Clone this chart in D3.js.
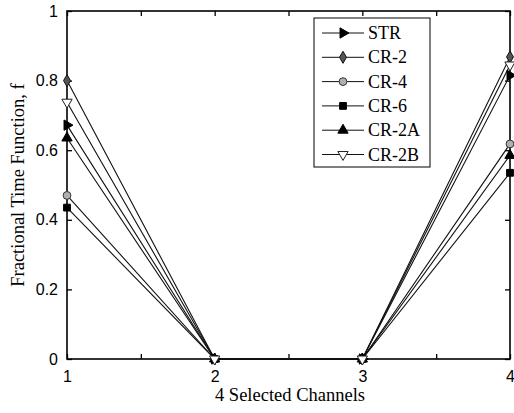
<!DOCTYPE html>
<html>
<head>
<meta charset="utf-8">
<script src="https://cdn.jsdelivr.net/npm/d3@7"></script>
<style>
  html, body { margin: 0; padding: 0; background: #fff; }
  svg { display: block; }
</style>
</head>
<body>
<svg id="chart" width="514" height="413"></svg>
<script>
// Channel positions along the x axis
const channels = [1, 2, 3, 4];
const xTickLabels = ["1", "2", "3", "4"];
const yTicks = [0, 0.2, 0.4, 0.6, 0.8, 1];

// Fractional time function per configuration, one value per channel
const seriesNames = ["STR", "CR-2", "CR-4", "CR-6", "CR-2A", "CR-2B"];
const strValues  = [0.672, 0, 0, 0.815];
const cr2Values  = [0.800, 0, 0, 0.868];
const cr4Values  = [0.470, 0, 0, 0.618];
const cr6Values  = [0.435, 0, 0, 0.535];
const cr2aValues = [0.635, 0, 0, 0.585];
const cr2bValues = [0.738, 0, 0, 0.845];

const series = [
  { name: seriesNames[0], values: strValues,  shape: "triRight" },
  { name: seriesNames[1], values: cr2Values,  shape: "diamond" },
  { name: seriesNames[2], values: cr4Values,  shape: "circle" },
  { name: seriesNames[3], values: cr6Values,  shape: "square" },
  { name: seriesNames[4], values: cr2aValues, shape: "triUp" },
  { name: seriesNames[5], values: cr2bValues, shape: "triDown" }
];

const svg = d3.select("#chart");
const plotLeft = 67, plotRight = 510, plotTop = 11, plotBottom = 359;

const x = d3.scaleLinear().domain([1, 4]).range([plotLeft, plotRight]);
const y = d3.scaleLinear().domain([0, 1]).range([plotBottom, plotTop]);

// Marker drawing
const markerStyle = {
  triRight: { type: d3.symbolTriangle, size: 46, rot: 90,  fill: "#000", stroke: "#000" },
  diamond:  { type: d3.symbolDiamond,  size: 42, rot: 0,   fill: "#555", stroke: "#111" },
  circle:   { type: d3.symbolCircle,   size: 48, rot: 0,   fill: "#b0b0b0", stroke: "#333" },
  square:   { type: d3.symbolSquare,   size: 46, rot: 0,   fill: "#000", stroke: "#000" },
  triUp:    { type: d3.symbolTriangle, size: 46, rot: 0,   fill: "#000", stroke: "#000" },
  triDown:  { type: d3.symbolTriangle, size: 46, rot: 180, fill: "#fff", stroke: "#222" }
};
function drawMarker(g, shape, cx, cy) {
  const s = markerStyle[shape];
  g.append("path")
    .attr("d", d3.symbol().type(s.type).size(s.size)())
    .attr("transform", `translate(${cx},${cy}) rotate(${s.rot})`)
    .attr("fill", s.fill)
    .attr("stroke", s.stroke)
    .attr("stroke-width", 1);
}

// Axes box
svg.append("rect")
  .attr("x", plotLeft).attr("y", plotTop)
  .attr("width", plotRight - plotLeft).attr("height", plotBottom - plotTop)
  .attr("fill", "none").attr("stroke", "#000").attr("stroke-width", 1.6);

const tickFont = "Arial, 'Liberation Sans', sans-serif";
const xTickVals = d3.range(1, 4.01, 0.5);

// Bottom axis: inward ticks, labels on whole channels
const xAxis = d3.axisBottom(x)
  .tickValues(xTickVals)
  .tickSizeInner(-5).tickSizeOuter(0)
  .tickPadding(12)
  .tickFormat(d => Number.isInteger(d) ? xTickLabels[d - 1] : "");
const gx = svg.append("g").attr("transform", `translate(0,${plotBottom})`).call(xAxis);
gx.select(".domain").remove();
gx.selectAll("text").attr("font-family", tickFont).attr("font-size", 16).attr("fill", "#000");
gx.selectAll("line").attr("stroke", "#000").attr("stroke-width", 1.3);

// Top axis ticks
const gxt = svg.append("g").attr("transform", `translate(0,${plotTop})`)
  .call(d3.axisTop(x).tickValues(xTickVals).tickSizeInner(-5).tickSizeOuter(0).tickFormat(""));
gxt.select(".domain").remove();
gxt.selectAll("line").attr("stroke", "#000").attr("stroke-width", 1.3);

// Left axis
const yAxis = d3.axisLeft(y)
  .tickValues(yTicks)
  .tickSizeInner(-5).tickSizeOuter(0)
  .tickPadding(9)
  .tickFormat(d => d === 0 || d === 1 ? String(d) : d3.format(".1f")(d));
const gy = svg.append("g").attr("transform", `translate(${plotLeft},0)`).call(yAxis);
gy.select(".domain").remove();
gy.selectAll("text").attr("font-family", tickFont).attr("font-size", 16).attr("fill", "#000");
gy.selectAll("line").attr("stroke", "#000").attr("stroke-width", 1.3);

// Right axis ticks
const gyr = svg.append("g").attr("transform", `translate(${plotRight},0)`)
  .call(d3.axisRight(y).tickValues(yTicks).tickSizeInner(-5).tickSizeOuter(0).tickFormat(""));
gyr.select(".domain").remove();
gyr.selectAll("line").attr("stroke", "#000").attr("stroke-width", 1.3);

// Series lines
const line = d3.line().x((d, i) => x(channels[i])).y(d => y(d));
const plot = svg.append("g");
series.forEach(s => {
  plot.append("path")
    .attr("d", line(s.values))
    .attr("fill", "none")
    .attr("stroke", "#111")
    .attr("stroke-width", 1.1);
});
series.forEach(s => {
  s.values.forEach((v, i) => drawMarker(plot, s.shape, x(channels[i]), y(v)));
});

// Axis titles
const titleFont = "'Times New Roman', 'Liberation Serif', serif";
svg.append("text")
  .attr("x", 290).attr("y", 401)
  .attr("text-anchor", "middle")
  .attr("font-family", titleFont).attr("font-size", 18.5)
  .text("4 Selected Channels");
svg.append("text")
  .attr("transform", `translate(24,${(plotTop + plotBottom) / 2}) rotate(-90)`)
  .attr("text-anchor", "middle")
  .attr("font-family", titleFont).attr("font-size", 18.5)
  .text("Fractional Time Function, f");

// Legend
const lg = svg.append("g");
lg.append("rect")
  .attr("x", 314).attr("y", 18).attr("width", 116).attr("height", 149)
  .attr("fill", "#fff").attr("stroke", "#000").attr("stroke-width", 1);
series.forEach((s, i) => {
  const ly = 33 + i * 24.3;
  lg.append("line")
    .attr("x1", 322).attr("x2", 364).attr("y1", ly).attr("y2", ly)
    .attr("stroke", "#111").attr("stroke-width", 1);
  drawMarker(lg, s.shape, 343, ly);
  lg.append("text")
    .attr("x", 368).attr("y", ly + 6)
    .attr("font-family", titleFont).attr("font-size", 18)
    .text(s.name);
});
</script>
</body>
</html>
